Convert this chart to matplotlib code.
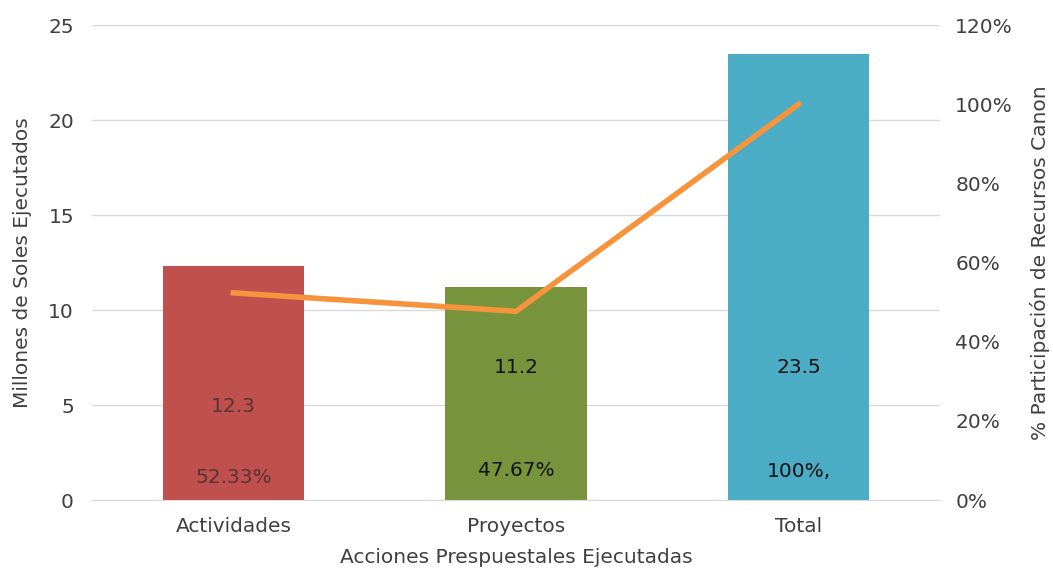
import matplotlib
matplotlib.use("Agg")
import matplotlib.pyplot as plt
from matplotlib.ticker import FuncFormatter

categories = ["Actividades", "Proyectos", "Total"]
montos = [12.3, 11.2, 23.5]
participacion = [52.33, 47.67, 100.0]
monto_labels = ["12.3", "11.2", "23.5"]
pct_labels = ["52.33%", "47.67%", "100%,"]
bar_colors = ["#C0504D", "#77933C", "#4BACC6"]
text_colors = ["#5a3434", "#111111", "#111111"]

plt.rcParams['font.family'] = ['DejaVu Sans']
fs = 14.5
fig = plt.figure(figsize=(10.53, 5.70), dpi=100)
ax = fig.add_axes([0.0874, 0.1228, 0.8053, 0.8333])
x = list(range(len(categories)))
ax.bar(x, montos, width=0.5, color=bar_colors, zorder=2)
ax.set_xlim(-0.5, 2.5)
ax.set_ylim(0, 25)
ax.set_yticks([0, 5, 10, 15, 20, 25])
ax.grid(axis='y', color='#d9d9d9', linewidth=1, zorder=0)
for s in ['top', 'right', 'left']:
    ax.spines[s].set_visible(False)
ax.spines['bottom'].set_color('#d9d9d9')
ax.tick_params(axis='both', length=0, labelsize=fs, colors='#404040')
ax.tick_params(axis='y', pad=13)
ax.tick_params(axis='x', pad=12)
ax.set_xticks(x)
ax.set_xticklabels(categories)
ax.set_ylabel("Millones de Soles Ejecutados", fontsize=fs, color='#404040', labelpad=12)
ax.set_xlabel("Acciones Prespuestales Ejecutadas", fontsize=fs, color='#404040', labelpad=9)

val_y = [4.9, 7.0, 7.0]
pct_y = [1.2, 1.55, 1.5]
for i in x:
    ax.text(i, val_y[i], monto_labels[i], ha='center', va='center', fontsize=fs, color=text_colors[i], zorder=4)
    ax.text(i, pct_y[i], pct_labels[i], ha='center', va='center', fontsize=fs, color=text_colors[i], zorder=4)

ax2 = ax.twinx()
ax2.plot(x, participacion, color='#F5943C', linewidth=4, zorder=3)
ax2.set_ylim(0, 120)
ax2.set_yticks([0, 20, 40, 60, 80, 100, 120])
ax2.yaxis.set_major_formatter(FuncFormatter(lambda v, p: f"{int(v)}%"))
for s in ['top', 'right', 'left', 'bottom']:
    ax2.spines[s].set_visible(False)
ax2.tick_params(axis='y', length=0, labelsize=fs, colors='#404040', pad=11)
ax2.set_ylabel("% Participación de Recursos Canon", fontsize=fs, color='#404040', labelpad=12)

fig.savefig("out.png", dpi=100, facecolor='white')
